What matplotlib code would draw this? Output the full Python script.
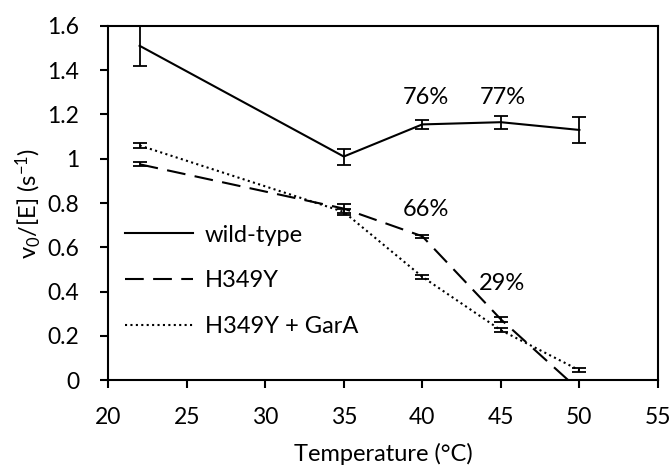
import numpy as np
import matplotlib
matplotlib.use('Agg')
import matplotlib.pyplot as plt
from matplotlib.lines import Line2D

# 数据
temps = [22, 35, 40, 45, 50]
wt = [1.51, 1.01, 1.155, 1.165, 1.13]
wt_err = [0.09, 0.036, 0.02, 0.03, 0.06]
h349y = [0.975, 0.775, 0.65, 0.275, -0.045]
h349y_err = [0.01, 0.02, 0.006, 0.01, 0.01]
garA = [1.06, 0.76, 0.467, 0.226, 0.045]
garA_err = [0.01, 0.015, 0.01, 0.01, 0.01]

series_names = ['wild-type', 'H349Y', 'H349Y + GarA']
labels = ['76%', '77%', '66%', '29%']
label_x = [40.2, 45.1, 40.2, 45.1]
label_y = [1.275, 1.275, 0.77, 0.435]

plt.rcParams['font.family'] = ['Lato', 'DejaVu Sans']
plt.rcParams['mathtext.fontset'] = 'custom'
plt.rcParams['mathtext.rm'] = 'Lato'
plt.rcParams['mathtext.it'] = 'Lato'
plt.rcParams['font.size'] = 17

fig = plt.figure(figsize=(6.72, 4.70), dpi=100)
ax = fig.add_axes([0.161, 0.191, 0.818, 0.754])

styles = [dict(ls='-'), dict(dashes=(9, 4.5)), dict(dashes=(1, 1.6))]
handles = []
for y, e, st, name in zip([wt, h349y, garA], [wt_err, h349y_err, garA_err], styles, series_names):
    ax.errorbar(temps, y, yerr=e, color='black', lw=1.5, capsize=5,
                elinewidth=1.3, capthick=1.3, **st)
    handles.append(Line2D([], [], color='black', lw=1.5, **st))

for t, x, y in zip(labels, label_x, label_y):
    ax.text(x, y, t, ha='center', va='center')

ax.set_xlim(20, 55)
ax.set_ylim(0, 1.6)
ax.set_xticks(range(20, 56, 5))
ax.set_yticks(np.arange(0, 1.61, 0.2))
ax.set_yticklabels(['0', '0.2', '0.4', '0.6', '0.8', '1', '1.2', '1.4', '1.6'])
ax.tick_params(direction='out', length=6, width=1.5, top=False, right=False,
               labelsize=16.5)
ax.tick_params(axis='x', pad=13)
ax.tick_params(axis='y', pad=15)
for s in ax.spines.values():
    s.set_linewidth(1.5)

ax.set_xlabel('Temperature (°C)', labelpad=11)
ax.set_ylabel(r'v$_0$/[E] (s$^{-1}$)', labelpad=3)

ax.legend(handles, series_names, loc='lower left', bbox_to_anchor=(0.0, 0.075),
          frameon=False, handlelength=2.9, labelspacing=1.05, handletextpad=0.5,
          borderaxespad=0.3)

fig.savefig('out.png', dpi=100)
